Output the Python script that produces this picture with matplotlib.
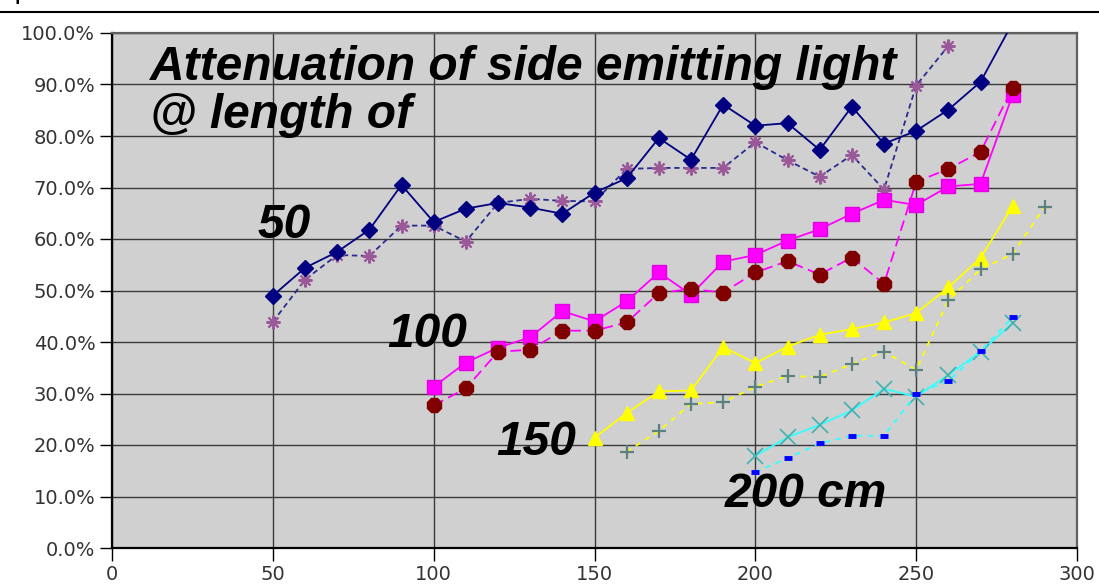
import matplotlib
matplotlib.use("Agg")
import matplotlib.pyplot as plt
from matplotlib.lines import Line2D
from matplotlib.ticker import FuncFormatter

# 50 cm
x_50 = [50, 60, 70, 80, 90, 100, 110, 120, 130, 140, 150, 160, 170, 180,
        190, 200, 210, 220, 230, 240, 250, 260, 270, 280]
y_50a = [49.0, 54.4, 57.5, 61.8, 70.5, 63.3, 65.9, 67.0, 66.1, 64.9, 69.0, 71.8,
         79.6, 75.4, 86.1, 82.0, 82.5, 77.3, 85.7, 78.5, 81.0, 85.1, 90.5, 102.0]
x_50b = [50, 60, 70, 80, 90, 100, 110, 120, 130, 140, 150, 160, 170, 180,
         190, 200, 210, 220, 230, 240, 250, 260]
y_50b = [43.9, 52.1, 56.9, 56.7, 62.6, 62.6, 59.5, 67.0, 67.8, 67.4, 67.3, 73.6,
         73.8, 73.8, 73.8, 78.8, 75.3, 72.1, 76.3, 69.6, 89.8, 97.5]

# 100 cm
x_100 = [100, 110, 120, 130, 140, 150, 160, 170, 180, 190, 200, 210, 220, 230,
         240, 250, 260, 270, 280]
y_100a = [31.3, 36.0, 38.9, 40.9, 46.0, 44.0, 47.9, 53.5, 49.2, 55.6, 56.9, 59.7,
          61.9, 64.9, 67.6, 66.6, 70.2, 70.7, 88.0]
y_100b = [27.7, 31.0, 38.1, 38.5, 42.2, 42.2, 43.8, 49.5, 50.3, 49.6, 53.5, 55.7,
          53.1, 56.4, 51.3, 71.1, 73.6, 76.9, 89.4]

# 150 cm
x_150a = [150, 160, 170, 180, 190, 200, 210, 220, 230, 240, 250, 260, 270, 280]
y_150a = [21.4, 26.2, 30.4, 30.6, 39.0, 35.9, 39.1, 41.4, 42.5, 43.8, 45.6, 50.6,
          56.3, 66.4]
x_150b = [160, 170, 180, 190, 200, 210, 220, 230, 240, 250, 260, 270, 280, 290]
y_150b = [18.7, 22.7, 28.0, 28.3, 31.3, 33.4, 33.2, 35.7, 38.1, 34.6, 48.1, 54.1,
          57.1, 66.3]

# 200 cm
x_200 = [200, 210, 220, 230, 240, 250, 260, 270, 280]
y_200a = [17.9, 21.5, 23.9, 26.7, 30.9, 29.4, 33.6, 38.1, 43.7]
y_200b = [14.8, 17.4, 20.3, 21.8, 21.8, 29.9, 32.4, 38.2, 44.8]

fig = plt.figure(figsize=(10.99, 5.87), dpi=100)
ax = fig.add_axes([112 / 1099, 1 - 548 / 587, 965 / 1099, 515 / 587])
ax.set_facecolor("#d0d0d0")

lw = 1.3
ax.plot(x_50, y_50a, color="#000080", lw=lw, marker="D", ms=8, zorder=5)
ax.plot(x_50b, y_50b, color="#2a2a90", lw=lw, ls=(0, (3, 2)), marker=(8, 2, 0),
        ms=10, mec="#9a5a9a", mfc="#800080", mew=1.5, zorder=4)
ax.plot(x_100, y_100a, color="#ff00ff", lw=lw, marker="s", ms=10,
        mec="#e000e0", zorder=4)
ax.plot(x_100, y_100b, color="#ff00ff", lw=lw, ls=(0, (6, 3)), marker="8",
        ms=10.5, mfc="#800000", mec="#800000", zorder=5)
ax.plot(x_150a, y_150a, color="#ffff00", lw=lw, marker="^", ms=10, zorder=4)
ax.plot(x_150b, y_150b, color="#ffff00", lw=lw, ls=(0, (3, 3)), marker="+",
        ms=10, mec="#5a8080", mew=1.6, zorder=4)
ax.plot(x_200, y_200a, color="#33ffff", lw=lw, marker="x", ms=11,
        mec="#40b0b0", mew=1.2, zorder=4)
ax.plot(x_200, y_200b, color="#33ffff", lw=lw, ls=(0, (3, 3)), marker="_",
        ms=6, mec="#0000ff", mew=3.5, zorder=5)

ax.set_xlim(0, 300)
ax.set_ylim(0, 100)
ax.set_xticks(range(0, 301, 50))
ax.set_yticks(range(0, 101, 10))
ax.yaxis.set_major_formatter(FuncFormatter(lambda v, p: "%.1f%%" % v))
ax.grid(True, color="#3a3a3a", lw=1.0)
ax.set_axisbelow(True)
ax.tick_params(direction="out", length=9, width=1, colors="black",
               labelcolor="#333333", labelsize=14, pad=3)

for side in ("left", "bottom"):
    ax.spines[side].set_color("black")
    ax.spines[side].set_linewidth(1.6)
for side in ("top", "right"):
    ax.spines[side].set_color("#606060")
    ax.spines[side].set_linewidth(1.6)

label_font = dict(family="Liberation Sans", weight="bold", style="italic",
                  fontsize=34.5, color="black", va="baseline", ha="left",
                  zorder=10)
ax.text(11.8, 90.9, "Attenuation of side emitting light", **label_font)
ax.text(11.8, 81.6, "@ length of", **label_font)
ax.text(45.3, 60.2, "50", **label_font)
ax.text(85.7, 39.1, "100", **label_font)
ax.text(119.6, 18.1, "150", **label_font)
ax.text(190.4, 8.0, "200 cm", **label_font)

# rule line at top of the page and the clipped glyph above it
fig.add_artist(Line2D([0, 1], [1 - 12 / 587] * 2, transform=fig.transFigure,
                      color="black", lw=1.5))
fig.text(14 / 1099, 1 + 2 / 587, "p", fontsize=20, family="DejaVu Sans",
         va="baseline", ha="left")

fig.savefig("out.png", dpi=100)
